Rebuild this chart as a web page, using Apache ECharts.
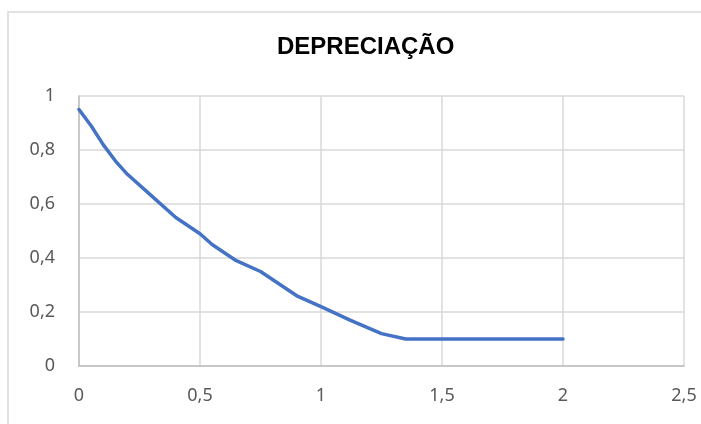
<!DOCTYPE html>
<html>
<head>
<meta charset="utf-8">
<script src="https://cdn.jsdelivr.net/npm/echarts@6/dist/echarts.min.js"></script>
<style>
  html, body { margin: 0; padding: 0; background: #fff; }
  #chart { width: 701px; height: 424px; }
</style>
</head>
<body>
<div id="chart"></div>
<script>
  /** Data */
  var titleText = 'DEPRECIAÇÃO';
  var xValues = [0, 0.05, 0.1, 0.15, 0.2, 0.3, 0.4, 0.5, 0.55, 0.65, 0.75, 0.9, 1, 1.12, 1.25, 1.35, 2];
  var yValues = [0.95, 0.89, 0.82, 0.76, 0.71, 0.63, 0.55, 0.49, 0.45, 0.39, 0.35, 0.26, 0.22, 0.17, 0.12, 0.1, 0.1];

  var points = xValues.map(function(x, i) { return [x, yValues[i]]; });

  function comma(v) {
    return String(v).replace('.', ',');
  }

  var labelFont = {
    color: '#595959',
    fontSize: 18,
    fontFamily: 'Noto Sans'
  };

  var option = {
    animation: false,
    backgroundColor: '#fff',
    title: {
      text: titleText,
      left: 272,
      top: 30,
      textStyle: {
        fontFamily: 'Liberation Sans',
        fontWeight: 'bold',
        fontSize: 24,
        color: '#000'
      }
    },
    graphic: [{
      type: 'rect',
      shape: { x: 8, y: 12, width: 720, height: 440 },
      style: { fill: 'none', stroke: '#d9d9d9', lineWidth: 1.5 },
      silent: true
    }],
    grid: {
      left: 79,
      right: 17,
      top: 96,
      bottom: 58
    },
    xAxis: {
      type: 'value',
      min: 0,
      max: 2.5,
      interval: 0.5,
      axisLine: { show: true, lineStyle: { color: '#bfbfbf', width: 1.5 } },
      axisTick: { show: false },
      splitLine: { show: true, lineStyle: { color: '#d9d9d9', width: 1.5 } },
      axisLabel: Object.assign({ margin: 21, formatter: comma }, labelFont)
    },
    yAxis: {
      type: 'value',
      min: 0,
      max: 1,
      interval: 0.2,
      axisLine: { show: true, lineStyle: { color: '#bfbfbf', width: 1.5 } },
      axisTick: { show: false },
      splitLine: { show: true, lineStyle: { color: '#d9d9d9', width: 1.5 } },
      axisLabel: Object.assign({ margin: 24, formatter: comma }, labelFont)
    },
    series: [{
      type: 'line',
      data: points,
      showSymbol: false,
      symbol: 'none',
      lineStyle: { color: '#4472c4', width: 3.5, cap: 'round', join: 'round' }
    }]
  };

  echarts.init(document.getElementById('chart')).setOption(option);
</script>
</body>
</html>
